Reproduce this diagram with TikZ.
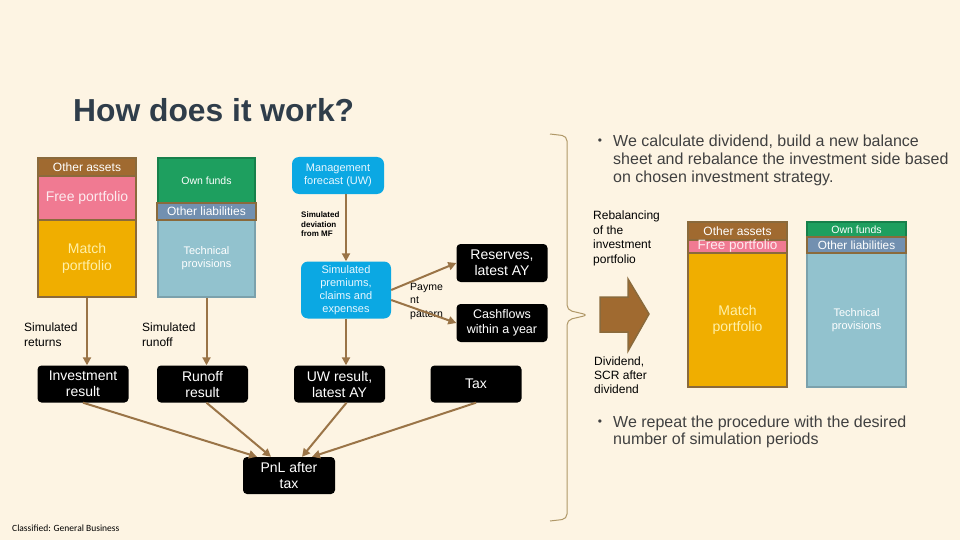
\documentclass[tikz,border=0pt]{standalone}
\usepackage{fontspec}
\setmainfont{Liberation Sans}
\newfontfamily\calfont{Carlito}
\usetikzlibrary{arrows.meta}
\definecolor{bgc}{HTML}{FDF4E3}
\definecolor{titlec}{HTML}{2F3D4A}
\definecolor{flowc}{HTML}{9A7447}
\definecolor{bracec}{HTML}{B09868}
\definecolor{brownc}{HTML}{A06A30}
\definecolor{sheetbrd}{HTML}{8A6A3C}
\definecolor{pinkc}{HTML}{F07A92}
\definecolor{pinktext}{HTML}{FDEBEF}
\definecolor{orangec}{HTML}{F0AE00}
\definecolor{yellowtext}{HTML}{FFF0A8}
\definecolor{greenc}{HTML}{1E9F5F}
\definecolor{greenbrd}{HTML}{17804B}
\definecolor{slatec}{HTML}{7290B0}
\definecolor{bluec}{HTML}{92C2CE}
\definecolor{bluebrd}{HTML}{7BA1AC}
\definecolor{cyanc}{HTML}{0BA8E3}
\definecolor{cyantext}{HTML}{E8F7FF}
\definecolor{bulletc}{HTML}{404040}
\tikzset{
  flow/.style={draw=flowc, line width=2, -{Triangle[length=8,width=8]}},
  blackbox/.style={fill=black, rounded corners=4, text=white, align=center, inner sep=0,
    minimum width=91, minimum height=37, font=\fontsize{14}{16}\selectfont},
  cyanbox/.style={fill=cyanc, rounded corners=7, text=cyantext, align=center, inner sep=0,
    font=\fontsize{11}{13}\selectfont},
  sheet/.style={line width=1.8, inner sep=0, align=center},
  lbl/.style={anchor=north west, inner sep=0, align=left},
}
\begin{document}
\begin{tikzpicture}[x=1pt,y=-1pt]
\fill[bgc] (0,0) rectangle (960,540);
\useasboundingbox (0,0) rectangle (960,540);
\node[anchor=base west, inner sep=0, text=titlec, font=\bfseries\fontsize{31.8}{36}\selectfont] (title) at (73,122) {How does it work?};
\node[sheet, fill=brownc, draw=sheetbrd, minimum width=98, minimum height=18, text=white, font=\fontsize{12}{14}\selectfont] (oa) at (87,167) {Other assets};
\node[sheet, fill=pinkc, draw=sheetbrd, minimum width=98, minimum height=44, text=pinktext, font=\fontsize{14}{16}\selectfont] (fp) at (87,198) {Free portfolio};
\node[sheet, fill=orangec, draw=sheetbrd, minimum width=98, minimum height=77, text=yellowtext, font=\fontsize{14}{17}\selectfont] (mp) at (87,258.5) {Match\\portfolio};
\node[sheet, fill=greenc, draw=greenbrd, minimum width=97, minimum height=45, text=white, font=\fontsize{10.5}{12}\selectfont] (of) at (206.5,180.5) {Own funds};
\node[sheet, fill=bluec, draw=bluebrd, minimum width=97, minimum height=77, text=white, font=\fontsize{11}{13}\selectfont] (tp) at (206.5,258.5) {Technical\\provisions};
\node[sheet, fill=slatec, draw=sheetbrd, minimum width=99, minimum height=17, text=white, font=\fontsize{12}{14}\selectfont] (ol) at (206.5,211.5) {Other liabilities};
\node[cyanbox, minimum width=92, minimum height=37] (mgmt) at (338,175.5) {Management\\forecast (UW)};
\node[cyanbox, minimum width=90, minimum height=57] (prem) at (346,290) {Simulated\\premiums,\\claims and\\expenses};
\node[blackbox, minimum height=38] (res) at (502,263) {Reserves,\\latest AY};
\node[blackbox, minimum height=38, font=\fontsize{12.5}{15}\selectfont] (cash) at (502,323) {Cashflows\\within a year};
\node[blackbox] (inv) at (83,384) {Investment\\result};
\node[blackbox] (run) at (202.5,384) {Runoff\\result};
\node[blackbox] (uw) at (339.5,384) {UW result,\\latest AY};
\node[blackbox] (tax) at (476,384) {Tax};
\node[blackbox, minimum width=92] (pnl) at (289,475.5) {PnL after\\tax};
\node[lbl, font=\fontsize{12}{15}\selectfont] (simret) at (24,323) {Simulated\\returns};
\node[lbl, font=\fontsize{12}{15}\selectfont] (simrun) at (142,323) {Simulated\\runoff};
\node[lbl, font=\bfseries\fontsize{8}{9.5}\selectfont] (simdev) at (301,212) {Simulated\\deviation\\from MF};
\node[lbl, font=\fontsize{10.5}{13.5}\selectfont] (pay) at (410,283) {Payme\\nt\\pattern};
\draw[flow] (mp.south) -- (mp.south |- inv.north);
\draw[flow] (tp.south) -- (tp.south |- run.north);
\draw[flow] (prem.north |- mgmt.south) -- (prem.north);
\draw[flow] (prem.south) -- (prem.south |- uw.north);
\draw[flow] (prem.east) -- (res.west);
\draw[flow] ([yshift=-10pt]prem.east) -- (cash.west);
\draw[flow] (inv.south) -- ([xshift=-32pt]pnl.north);
\draw[flow] ([xshift=4pt]run.south) -- ([xshift=-18pt]pnl.north);
\draw[flow] ([xshift=7pt]uw.south) -- ([xshift=13pt]pnl.north);
\draw[flow] (tax.south) -- ([xshift=23pt]pnl.north);
\draw[bracec, line width=1, rounded corners=5] (550,134) -- (567,136) -- (567,310) -- (588,315) -- (567,320) -- (567,519) -- (550,521);
\node[inner sep=0, text=bulletc, font=\fontsize{12}{14}\selectfont] (b1) at (600,142) {\textbullet};
\node[lbl, text=bulletc, font=\fontsize{16}{18}\selectfont] (t1) at (613,135) {We calculate dividend, build a new balance\\sheet and rebalance the investment side based\\on chosen investment strategy.};
\node[lbl, font=\fontsize{12}{14.5}\selectfont] (rebal) at (593,211) {Rebalancing\\of the\\investment\\portfolio};
\draw[fill=brownc, draw=sheetbrd, line width=1.5] (600,297) -- (628,297) -- (628,279) -- (649,314) -- (628,351) -- (628,332) -- (600,332) -- cycle;
\node[lbl, font=\fontsize{12}{14}\selectfont] (div) at (594,357) {Dividend,\\SCR after\\dividend};
\node[sheet, fill=orangec, draw=sheetbrd, minimum width=99, minimum height=134, text=yellowtext, font=\fontsize{14}{16}\selectfont] (mp2) at (737.5,320) {Match\\portfolio};
\node[sheet, fill=brownc, draw=sheetbrd, minimum width=99, minimum height=18, text=white, font=\fontsize{12}{14}\selectfont] (oa2) at (737.5,231) {Other assets};
\node[sheet, fill=pinkc, draw=sheetbrd, minimum width=99, minimum height=13, text=pinktext, font=\fontsize{13.5}{15}\selectfont] (fp2) at (737.5,246.5) {Free portfolio};
\node[sheet, fill=bluec, draw=bluebrd, minimum width=99, minimum height=134, text=white, font=\fontsize{11}{13}\selectfont] (tp2) at (856.5,320) {Technical\\provisions};
\node[sheet, fill=greenc, draw=greenbrd, minimum width=99, minimum height=15, text=white, font=\fontsize{10.5}{12}\selectfont] (of2) at (856.5,229.5) {Own funds};
\node[sheet, fill=slatec, draw=sheetbrd, minimum width=99, minimum height=16, text=white, font=\fontsize{11.8}{13}\selectfont] (ol2) at (856.5,245) {Other liabilities};
\node[inner sep=0, text=bulletc, font=\fontsize{12}{14}\selectfont] (b2) at (600,423) {\textbullet};
\node[lbl, text=bulletc, font=\fontsize{16}{17}\selectfont] (t2) at (613,416) {We repeat the procedure with the desired\\number of simulation periods};
\node[anchor=west, inner sep=0, font=\calfont\fontsize{9.5}{11}\selectfont] (cls) at (12,528) {Classified: General Business};
\end{tikzpicture}
\end{document}
